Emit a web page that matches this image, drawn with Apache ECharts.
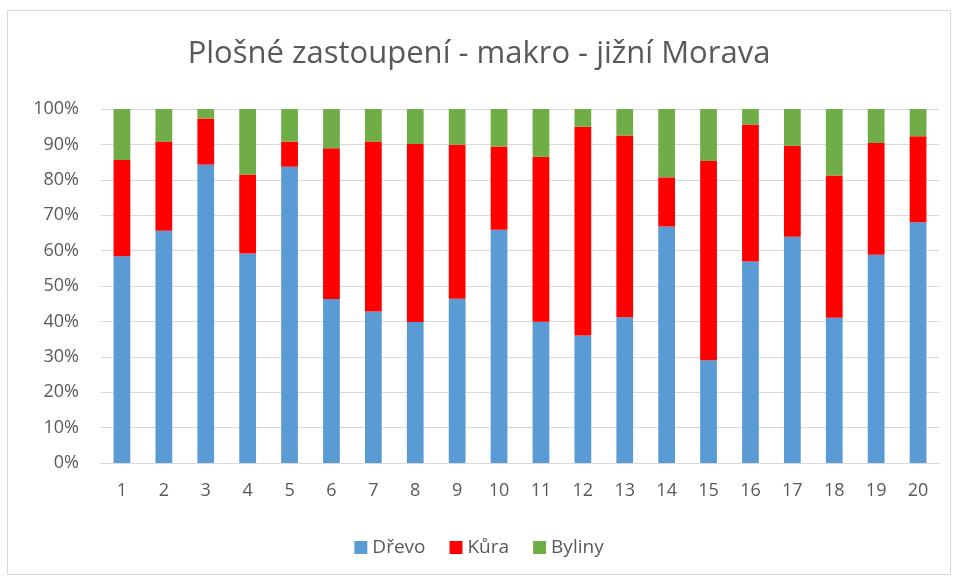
<!DOCTYPE html>
<html>
<head>
<meta charset="utf-8">
<script src="https://cdn.jsdelivr.net/npm/echarts@6/dist/echarts.min.js"></script>
<style>
  html, body { margin: 0; padding: 0; background: #fff; }
  #chart { width: 958px; height: 579px; }
</style>
</head>
<body>
<div id="chart"></div>
<script>
var categories = ['1', '2', '3', '4', '5', '6', '7', '8', '9', '10',
  '11', '12', '13', '14', '15', '16', '17', '18', '19', '20'];
var drevo = [58.4, 65.6, 84.3, 59.2, 83.7, 46.3, 42.8, 39.8, 46.4, 65.9,
  39.9, 36.0, 41.2, 66.8, 29.0, 56.9, 63.9, 41.0, 58.8, 68.0];
var kura = [27.2, 25.2, 13.0, 22.3, 7.1, 42.6, 48.0, 50.3, 43.5, 23.5,
  46.6, 59.0, 51.3, 13.9, 56.3, 38.7, 25.7, 40.2, 31.6, 24.3];
var byliny = [14.4, 9.2, 2.7, 18.5, 9.2, 11.1, 9.2, 9.9, 10.1, 10.6,
  13.5, 5.0, 7.5, 19.3, 14.7, 4.4, 10.4, 18.8, 9.6, 7.7];

var font = '"Open Sans", "DejaVu Sans", sans-serif';
var chart = echarts.init(document.getElementById('chart'));

var option = {
  animation: false,
  backgroundColor: '#fff',
  textStyle: { fontFamily: font },
  title: {
    text: 'Plošné zastoupení - makro - jižní Morava',
    left: 'center',
    top: 34,
    textStyle: { fontFamily: font, fontSize: 31, fontWeight: 'normal', color: '#595959' }
  },
  graphic: [{
    type: 'rect',
    shape: { x: 7.5, y: 10.5, width: 943, height: 564 },
    style: { fill: 'none', stroke: '#d9d9d9', lineWidth: 1 },
    silent: true
  }],
  legend: {
    bottom: 17,
    left: 'center',
    itemWidth: 13,
    itemHeight: 13,
    itemGap: 24,
    icon: 'rect',
    textStyle: { fontFamily: font, fontSize: 19, color: '#595959' },
    data: ['Dřevo', 'Kůra', 'Byliny']
  },
  grid: { left: 101, right: 19, top: 109, bottom: 116 },
  xAxis: {
    type: 'category',
    data: categories,
    axisTick: { show: false },
    axisLine: { lineStyle: { color: '#d9d9d9', width: 1 } },
    axisLabel: { fontFamily: font, fontSize: 18, color: '#595959', margin: 19 }
  },
  yAxis: {
    type: 'value',
    min: 0,
    max: 100,
    interval: 10,
    axisLine: { show: false },
    axisTick: { show: false },
    splitLine: { lineStyle: { color: '#d9d9d9', width: 1 } },
    axisLabel: { fontFamily: font, fontSize: 18, color: '#595959', margin: 22, formatter: '{value}%' }
  },
  series: [
    { name: 'Dřevo', type: 'bar', stack: 'a', data: drevo, barWidth: '40%', itemStyle: { color: '#5b9bd5' } },
    { name: 'Kůra', type: 'bar', stack: 'a', data: kura, barWidth: '40%', itemStyle: { color: '#ff0000' } },
    { name: 'Byliny', type: 'bar', stack: 'a', data: byliny, barWidth: '40%', itemStyle: { color: '#70ad47' } }
  ]
};

chart.setOption(option);
window.addEventListener('resize', function () {
  chart.resize();
});
</script>
</body>
</html>
